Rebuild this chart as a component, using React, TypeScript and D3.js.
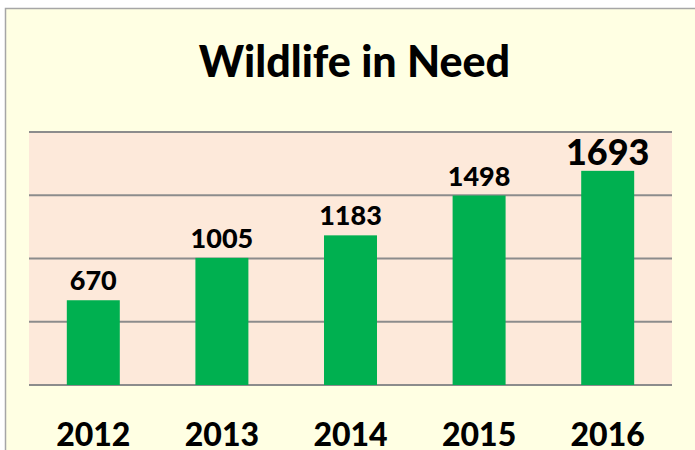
// Wildlife in Need - simple D3 column chart with value labels

import { useEffect, useRef } from "react";
import * as d3 from "d3";

const years = ["2012", "2013", "2014", "2015", "2016"];
const counts = [670, 1005, 1183, 1498, 1693];
const gridValues = [0, 500, 1000, 1500, 2000];

export default function App() {
  const svgRef = useRef<SVGSVGElement>(null);

  useEffect(() => {
    if (!svgRef.current) return;
    const svg = d3.select(svgRef.current);
    svg.selectAll("*").remove();

    const width = 695;
    const height = 450;
    const font = "Lato, 'Open Sans', sans-serif";

    // plot area
    const left = 29;
    const right = 672;
    const top = 132;
    const bottom = 385;

    // chart frame (runs off the right and bottom edge)
    svg
      .append("rect")
      .attr("x", 5.5)
      .attr("y", 8.5)
      .attr("width", width + 20)
      .attr("height", height + 20)
      .attr("fill", "#FFFFE3")
      .attr("stroke", "#A6A6A6")
      .attr("stroke-width", 1.5);

    const x = d3
      .scaleBand<string>()
      .domain(years)
      .range([left, right])
      .paddingInner(0.588)
      .paddingOuter(0.294);

    const y = d3.scaleLinear().domain([0, 2000]).range([bottom, top]);

    svg
      .append("rect")
      .attr("x", left)
      .attr("y", top)
      .attr("width", right - left)
      .attr("height", bottom - top)
      .attr("fill", "#FDE9DA");

    // gridlines
    svg
      .append("g")
      .selectAll("line")
      .data(gridValues)
      .join("line")
      .attr("x1", left)
      .attr("x2", right)
      .attr("y1", (d) => y(d))
      .attr("y2", (d) => y(d))
      .attr("stroke", "#8C8C8C")
      .attr("stroke-width", 2);

    // bars
    svg
      .append("g")
      .selectAll("rect")
      .data(counts)
      .join("rect")
      .attr("x", (_, i) => x(years[i])!)
      .attr("y", (d) => y(d))
      .attr("width", x.bandwidth())
      .attr("height", (d) => bottom - y(d))
      .attr("fill", "#00B050");

    // value labels, last one bigger
    svg
      .append("g")
      .selectAll("text")
      .data(counts)
      .join("text")
      .attr("x", (_, i) => x(years[i])! + x.bandwidth() / 2)
      .attr("y", (d, i) => y(d) - (i === counts.length - 1 ? 6 : 10))
      .attr("text-anchor", "middle")
      .attr("font-family", font)
      .attr("font-weight", 900)
      .attr("font-size", (_, i) => (i === counts.length - 1 ? 36 : 27))
      .attr("fill", "#000")
      .text((d) => d);

    // category labels
    svg
      .append("g")
      .selectAll("text")
      .data(years)
      .join("text")
      .attr("x", (d) => x(d)! + x.bandwidth() / 2)
      .attr("y", 446)
      .attr("text-anchor", "middle")
      .attr("font-family", font)
      .attr("font-weight", 900)
      .attr("font-size", 32)
      .attr("fill", "#000")
      .text((d) => d);

    // title
    svg
      .append("text")
      .attr("x", (left + right) / 2 + 4)
      .attr("y", 77)
      .attr("text-anchor", "middle")
      .attr("font-family", font)
      .attr("font-weight", 900)
      .attr("font-size", 43)
      .attr("fill", "#000")
      .text("Wildlife in Need");
  }, []);

  return (
    <svg
      ref={svgRef}
      width={695}
      height={450}
      style={{ position: "absolute", left: 0, top: 0, background: "#fff" }}
    />
  );
}
